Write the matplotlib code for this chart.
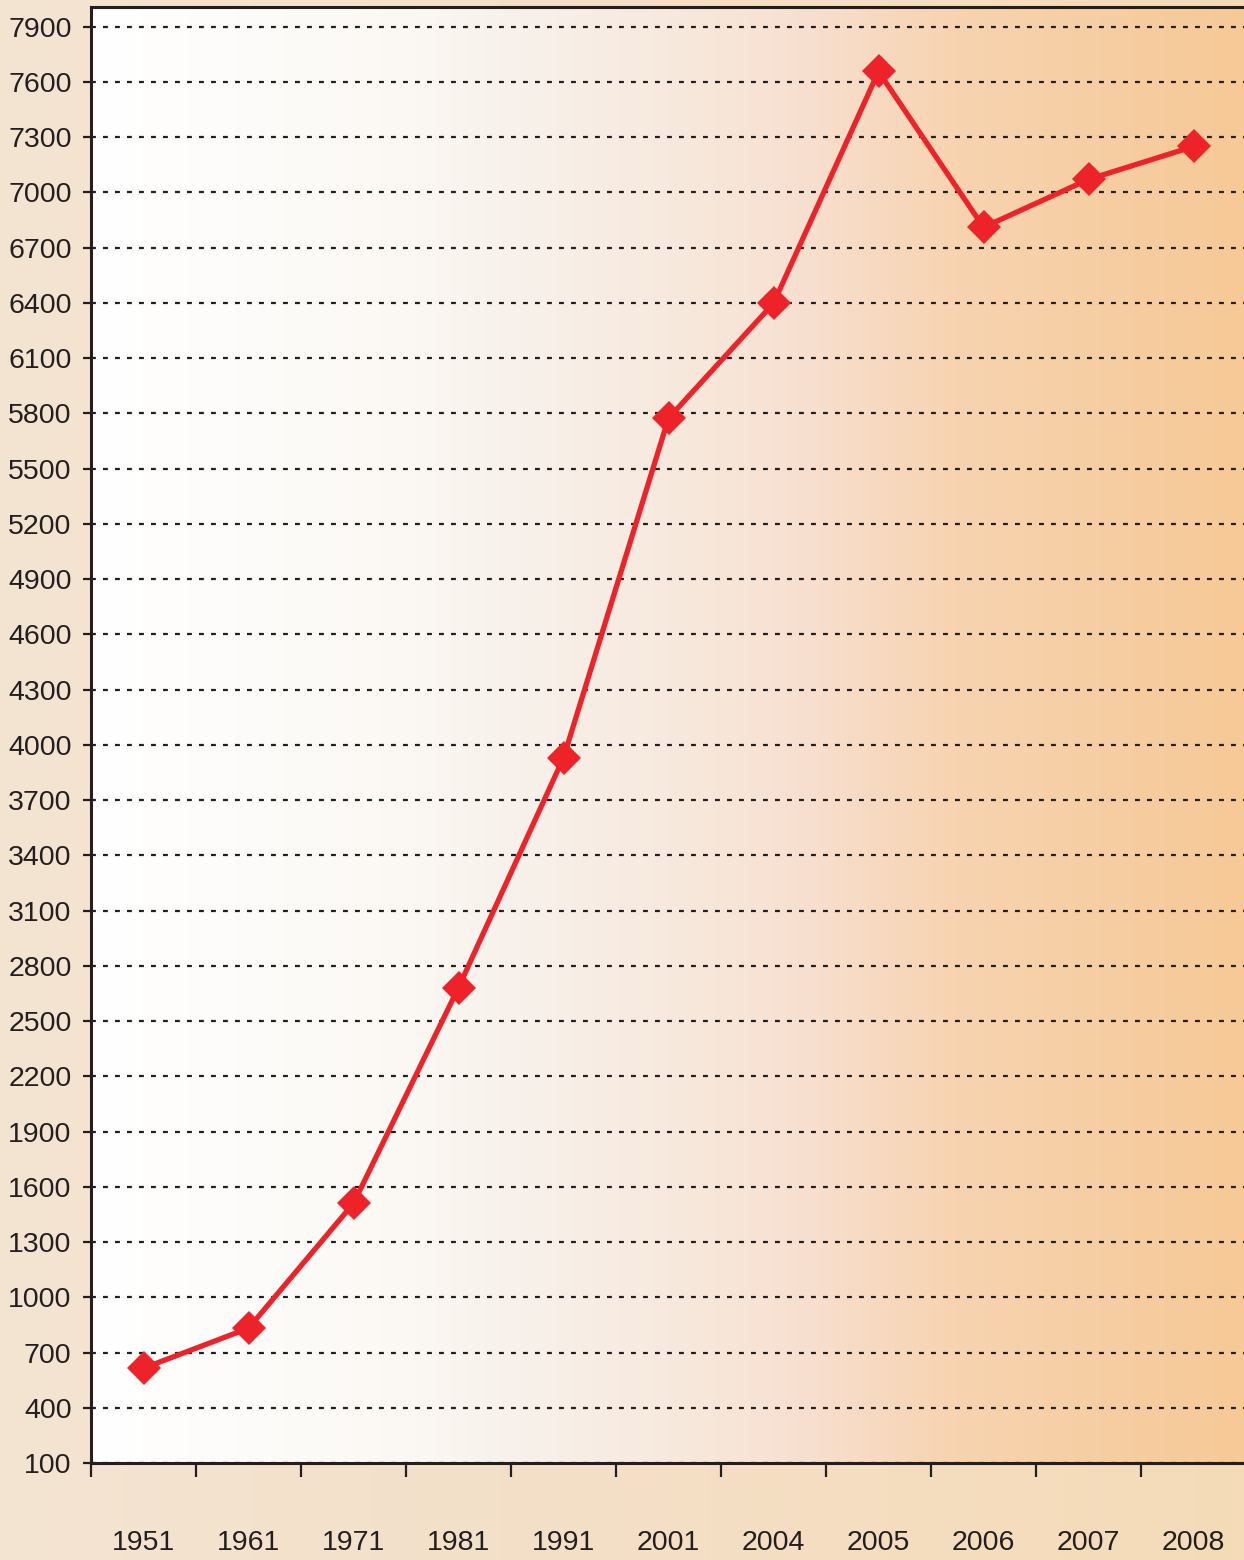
import matplotlib
matplotlib.use('Agg')
import matplotlib.pyplot as plt
import numpy as np
from matplotlib.colors import LinearSegmentedColormap

years = ['1951', '1961', '1971', '1981', '1991', '2001', '2004', '2005', '2006', '2007', '2008']
values = [615, 832, 1510, 2682, 3930, 5774, 6398, 7657, 6811, 7071, 7250]
yticks = list(range(100, 8000, 300))

plt.rcParams['font.family'] = ['Liberation Sans', 'DejaVu Sans']

fig = plt.figure(figsize=(12.44, 15.6), dpi=100)

# soft beige background for the whole figure
bg = fig.add_axes([0, 0, 1, 1], zorder=-10)
bg_cmap = LinearSegmentedColormap.from_list('bg', ['#f3e4d2', '#f4dfc6', '#f5dbb8'])
bg.imshow(np.linspace(0, 1, 256).reshape(1, -1), aspect='auto', cmap=bg_cmap,
          extent=[0, 1, 0, 1])
bg.set_axis_off()

ax = fig.add_axes([91 / 1244, 97 / 1560, (1246 - 91) / 1244, (1463 - 6.5) / 1560])

# plot area gradient, white -> peach
grad = LinearSegmentedColormap.from_list('grad', [
    (0.0, '#ffffff'), (0.25, '#fcf9f5'), (0.4, '#f7efe8'),
    (0.55, '#f7e6d8'), (0.62, '#f8dfcf'), (0.75, '#f7d3b0'), (1.0, '#f6c996')])
ax.imshow(np.linspace(0, 1, 256).reshape(1, -1), aspect='auto', cmap=grad,
          extent=[-0.5, 10.5, 100, 8010], zorder=0)

x = np.arange(len(years))
ax.plot(x, values, color='#ee2229', lw=3.8, marker='D', ms=17,
        markeredgewidth=0, zorder=3, solid_joinstyle='miter')

ax.set_xlim(-0.5, 10.5)
ax.set_ylim(100, 8010)
ax.set_yticks(yticks)
ax.yaxis.grid(True, color='#231f20', lw=1.6, linestyle=(0, (2.2, 3.2)))
ax.set_axisbelow(False)
for gl in ax.get_ygridlines():
    gl.set_zorder(1)

ax.set_xticks(np.arange(-0.5, 10.6, 1.0), minor=False)
ax.set_xticklabels([])
ax.set_xticks(x, minor=True)
ax.set_xticklabels(years, minor=True)
ax.tick_params(axis='x', which='major', length=10, width=1.6, color='#231f20')
ax.tick_params(axis='x', which='minor', length=0, pad=48, labelsize=20.5,
               labelcolor='#231f20')
ax.tick_params(axis='y', length=6, width=1.6, color='#231f20', pad=8,
               labelsize=20.5, labelcolor='#231f20')

for side in ['left', 'bottom', 'top']:
    ax.spines[side].set_linewidth(2.2)
    ax.spines[side].set_color('#231f20')
ax.spines['right'].set_visible(False)

fig.savefig('out.png', dpi=100)
